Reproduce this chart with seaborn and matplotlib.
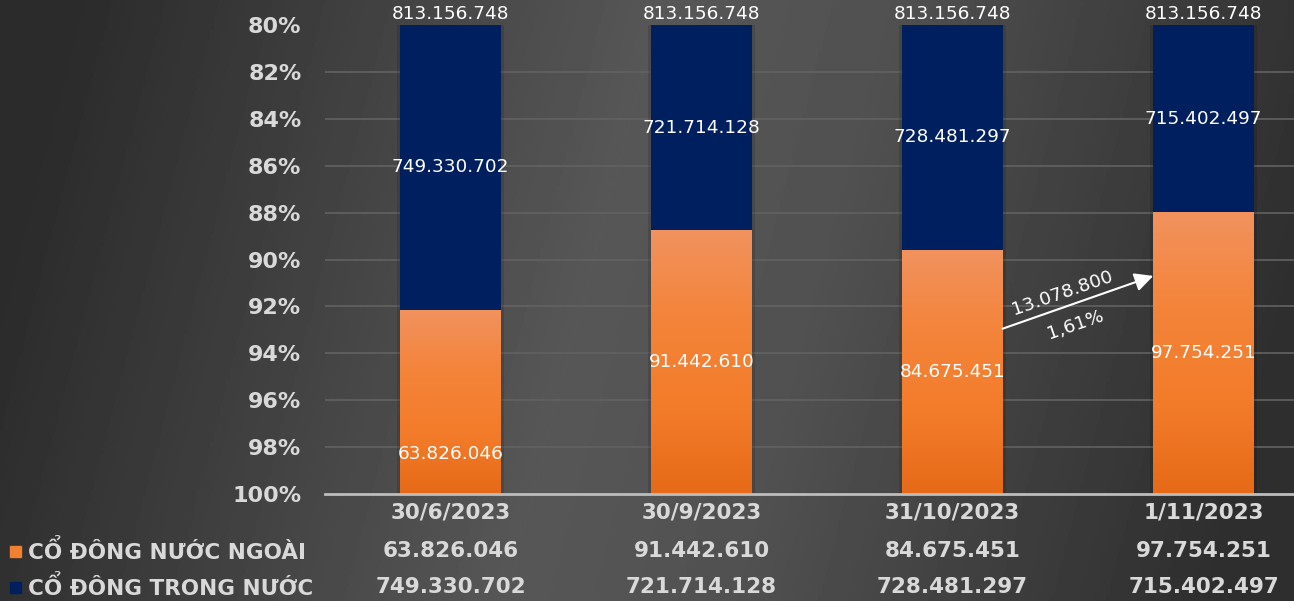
import matplotlib
matplotlib.use("Agg")
import matplotlib.pyplot as plt
import matplotlib.transforms as mtransforms
from matplotlib.patches import Rectangle
from matplotlib.colors import LinearSegmentedColormap
import seaborn as sns
import pandas as pd
import numpy as np

# dữ liệu cơ cấu cổ đông
dates = ["30/6/2023", "30/9/2023", "31/10/2023", "1/11/2023"]
foreign = [63826046, 91442610, 84675451, 97754251]
domestic = [749330702, 721714128, 728481297, 715402497]
total = [813156748, 813156748, 813156748, 813156748]
label_foreign = "CỔ ĐÔNG NƯỚC NGOÀI"
label_domestic = "CỔ ĐÔNG TRONG NƯỚC"

NAVY = "#001F5F"
ORANGE = "#F28030"
TXT = "#D9D9D9"


def vn(n):
    return f"{n:,}".replace(",", ".")


df = pd.DataFrame({"date": dates, "foreign": foreign,
                   "domestic": domestic, "total": total})
df["dom_pct"] = 100 - df["foreign"] / df["total"] * 100
df["full"] = 100.0

sns.set_theme(style="dark")
plt.rcParams['font.family'] = ['DejaVu Sans']

W, H = 1294, 601
fig = plt.figure(figsize=(W / 100, H / 100), dpi=100)

# nền xám chuyển màu
bg = fig.add_axes([0, 0, 1, 1], zorder=-10)
xx, yy = np.meshgrid(np.linspace(0, 1, 400), np.linspace(0, 1, 200))
t = xx + 0.12 * (yy - 0.5)
lum = np.interp(t, [0.0, 0.45, 0.62, 1.0], [0.17, 0.34, 0.32, 0.18])
bg.imshow(lum, cmap="gray", vmin=0, vmax=1, aspect="auto", extent=(0, 1, 0, 1))
bg.axis("off")

ax = fig.add_axes([325 / W, 1 - 494 / H, 1004 / W, 469 / H])
ax.set_facecolor("none")

sns.barplot(data=df, x="date", y="full", color=ORANGE, width=0.4,
            saturation=1, ax=ax, zorder=1, linewidth=0, edgecolor="none")
sns.barplot(data=df, x="date", y="dom_pct", color=NAVY, width=0.4,
            saturation=1, ax=ax, zorder=3, linewidth=0, edgecolor="none")

orange_cmap = LinearSegmentedColormap.from_list(
    "og", ["#F1925E", "#F4843A", "#F37C2A", "#E66A18"])
grad = np.linspace(0, 1, 256).reshape(-1, 1)
for i, p in enumerate(ax.patches[:4]):
    x0, w = p.get_x(), p.get_width()
    d = df["dom_pct"][i]
    ax.imshow(grad, cmap=orange_cmap, aspect="auto", zorder=2,
              extent=(x0, x0 + w, 100, d))
    # bóng mờ quanh cột
    ax.add_patch(Rectangle((x0 - 0.015, 80), w + 0.03, 20, color="black",
                           alpha=0.12, zorder=0.5, lw=0))

ax.set_xlim(-0.5, 3.5)
ax.set_ylim(100, 80)

for v in range(82, 100, 2):
    ax.axhline(v, color="#626262", lw=1.2, zorder=0.4)
for s in ["top", "left", "right"]:
    ax.spines[s].set_visible(False)
ax.spines["bottom"].set_color("#BDBDBD")
ax.spines["bottom"].set_linewidth(2)
ax.spines["bottom"].set_zorder(4)

ax.set_yticks(range(80, 101, 2))
ax.set_yticklabels([f"{v}%" for v in range(80, 101, 2)])
ax.tick_params(axis="y", length=0, pad=17, labelsize=16, labelcolor=TXT)
ax.tick_params(axis="x", length=0, pad=6, labelsize=15.5, labelcolor=TXT)
for lab in ax.get_yticklabels() + ax.get_xticklabels():
    lab.set_fontweight("bold")
ax.set_xlabel("")
ax.set_ylabel("")

# nhãn giá trị
for i in range(4):
    d = df["dom_pct"][i]
    ax.annotate(vn(total[i]), (i, 80), xytext=(0, 1.5),
                textcoords="offset points", ha="center", va="bottom",
                color="white", fontsize=13.3, annotation_clip=False)
    ax.text(i, (80 + d) / 2, vn(domestic[i]), ha="center", va="center",
            color="white", fontsize=13.3, zorder=5)
    yo = 98.3 if i == 0 else (d + 100) / 2
    ax.text(i, yo, vn(foreign[i]), ha="center", va="center",
            color="white", fontsize=13.3, zorder=5)

# mũi tên thay đổi sở hữu nước ngoài
diff = foreign[3] - foreign[2]
pct = diff / total[3] * 100
ax.annotate("", xy=(2.8, 90.7), xytext=(2.2, 92.95),
            arrowprops=dict(arrowstyle="-|>", color="white", lw=1.5,
                            mutation_scale=28, shrinkA=0, shrinkB=0),
            zorder=6)
mx, my = 2.5, (90.7 + 92.95) / 2
ax.annotate(vn(diff), (mx, my), xytext=(-11.5, 7), textcoords="offset points",
            ha="center", va="center", rotation=19, color="white", fontsize=13.3)
ax.annotate(f"{pct:.2f}%".replace(".", ","), (mx, my), xytext=(-2, -16.5),
            textcoords="offset points", ha="center", va="center",
            rotation=19, color="white", fontsize=13.3)

# bảng số liệu bên dưới
tr = mtransforms.blended_transform_factory(ax.transData, fig.transFigure)
for i in range(4):
    ax.text(i, 1 - 551 / H, vn(foreign[i]), transform=tr, ha="center",
            va="center", color=TXT, fontsize=15.5, fontweight="bold")
    ax.text(i, 1 - 587 / H, vn(domestic[i]), transform=tr, ha="center",
            va="center", color=TXT, fontsize=15.5, fontweight="bold")

fig.text(28 / W, 1 - 551 / H, label_foreign, ha="left", va="center",
         color=TXT, fontsize=15.5, fontweight="bold")
fig.text(28 / W, 1 - 587 / H, label_domestic, ha="left", va="center",
         color=TXT, fontsize=15.5, fontweight="bold")
fig.patches.append(Rectangle((10 / W, 1 - 557 / H), 11 / W, 11 / H,
                             transform=fig.transFigure, color=ORANGE))
fig.patches.append(Rectangle((10 / W, 1 - 593 / H), 11 / W, 11 / H,
                             transform=fig.transFigure, color=NAVY))

fig.savefig("out.png", dpi=100)
